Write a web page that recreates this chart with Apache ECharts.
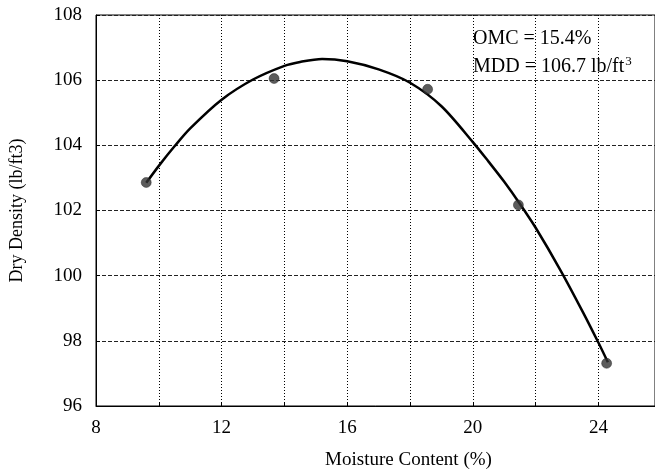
<!DOCTYPE html>
<html>
<head>
<meta charset="utf-8">
<title>Compaction curve</title>
<style>
  html, body { margin: 0; height: 100%; background: #fff; }
  #main { width: 655px; height: 475px; }
</style>
</head>
<body>
<div id="main"></div>
<script src="https://cdn.jsdelivr.net/npm/echarts@6/dist/echarts.min.js"></script>
<script>
// measured points
var moisture = [9.6, 13.67, 18.56, 21.45, 24.26];
var density = [102.86, 106.05, 105.72, 102.17, 97.31];

// fitted curve
var curveX = [9.6, 10, 10.5, 11, 12, 13, 14, 14.5, 15.2, 16, 17, 18, 19, 20, 20.5, 21, 21.5, 22, 22.8, 23.5, 24, 24.3];
var curveY = [102.85, 103.37, 103.97, 104.52, 105.4, 106.02, 106.44, 106.56, 106.65, 106.58, 106.33, 105.92, 105.2, 104.1, 103.5, 102.88, 102.2, 101.47, 100.15, 98.89, 97.94, 97.34];

var xLabels = [8, 12, 16, 20, 24];

var font = 'Liberation Serif';

var points = moisture.map(function (m, i) { return [m, density[i]]; });
var curve = curveX.map(function (x, i) { return [x, curveY[i]]; });

var chart = echarts.init(document.getElementById('main'));
chart.setOption({
  animation: false,
  grid: {
    left: 96, right: 0, top: 15, bottom: 65,
    show: true, borderColor: '#000', borderWidth: 1
  },
  xAxis: {
    type: 'value', min: 8, max: 25.8, interval: 2,
    name: 'Moisture Content (%)',
    nameLocation: 'middle', nameGap: 45,
    nameTextStyle: { fontFamily: font, fontSize: 19, color: '#000', padding: [0, 0, 0, 66] },
    axisLine: { lineStyle: { color: '#000' } },
    axisTick: { inside: true, length: 4, lineStyle: { color: '#000' } },
    axisLabel: {
      fontFamily: font, fontSize: 19, color: '#000', margin: 13, showMaxLabel: false,
      formatter: function (v) { return xLabels.indexOf(v) >= 0 ? String(v) : ''; }
    },
    splitLine: { show: true, lineStyle: { color: '#000', type: [1, 2], width: 1 } }
  },
  yAxis: {
    type: 'value', min: 96, max: 108, interval: 2,
    name: 'Dry Density (lb/ft3)',
    nameLocation: 'middle', nameGap: 70,
    nameTextStyle: { fontFamily: font, fontSize: 18, color: '#000' },
    axisLine: { show: true, lineStyle: { color: '#000' } },
    axisTick: { inside: true, length: 4, lineStyle: { color: '#000' } },
    axisLabel: { fontFamily: font, fontSize: 19, color: '#000', margin: 14 },
    splitLine: { show: true, lineStyle: { color: '#222', type: [4, 2], width: 1 } }
  },
  graphic: [
    {
      type: 'text', left: 473, top: 29,
      style: { text: 'OMC = 15.4%', font: '20px "Liberation Serif"', fill: '#000' }
    },
    {
      type: 'text', left: 473, top: 55,
      style: {
        text: '{a|MDD = 106.7 lb/ft}{s|3}',
        rich: {
          a: { fontFamily: font, fontSize: 20, fill: '#000' },
          s: { fontFamily: font, fontSize: 13, fill: '#000', padding: [0, 0, 10, 1] }
        }
      }
    }
  ],
  series: [
    {
      type: 'line', data: curve, smooth: 0.3, showSymbol: false,
      lineStyle: { color: '#000', width: 2.5 }, z: 2
    },
    {
      type: 'scatter', data: points, symbolSize: 10,
      itemStyle: { color: '#333', borderColor: '#111', borderWidth: 0.5 }, z: 3
    }
  ]
});
</script>
</body>
</html>
